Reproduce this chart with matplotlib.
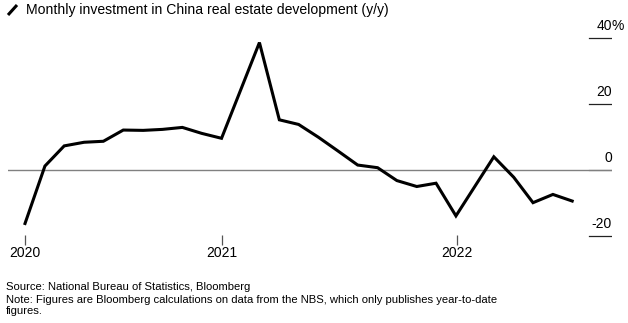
import pandas as pd
import matplotlib
matplotlib.use('Agg')
import matplotlib.pyplot as plt
import matplotlib.transforms as mtransforms
from matplotlib.lines import Line2D

plt.rcParams['font.family'] = ['Liberation Sans', 'DejaVu Sans']

# month-end dates; Jan-Feb is reported as one figure by the NBS
dates = pd.to_datetime([
    '2020-02-29', '2020-03-31', '2020-04-30', '2020-05-31', '2020-06-30',
    '2020-07-31', '2020-08-31', '2020-09-30', '2020-10-31', '2020-11-30',
    '2020-12-31',
    '2021-02-28', '2021-03-31', '2021-04-30', '2021-05-31', '2021-06-30',
    '2021-07-31', '2021-08-31', '2021-09-30', '2021-10-31', '2021-11-30',
    '2021-12-31',
    '2022-02-28', '2022-03-31', '2022-04-30', '2022-05-31', '2022-06-30',
])
invest_yoy = [
    -16.2, 1.2, 7.3, 8.4, 8.7, 12.1, 12.0, 12.3, 12.9, 11.1, 9.6,
    38.6, 15.2, 13.8, 9.9, 5.8, 1.5, 0.7, -3.2, -5.0, -4.0, -13.9,
    4.0, -2.2, -9.9, -7.4, -9.4,
]
year_ticks = [dates[0], pd.Timestamp('2021-01-01'), pd.Timestamp('2022-01-01')]
year_labels = ['2020', '2021', '2022']
y_ticks = [40, 20, 0, -20]

title = 'Monthly investment in China real estate development (y/y)'
source = 'Source: National Bureau of Statistics, Bloomberg'
note = ('Note: Figures are Bloomberg calculations on data from the NBS, which only publishes year-to-date\n'
        'figures.')

W, H = 628, 323
fig = plt.figure(figsize=(W / 100, H / 100), dpi=100)
# axes spans x 8..612 px, y 30..240 px
ax = fig.add_axes([8 / W, 1 - 240 / H, 604 / W, 210 / H])

ax.plot(dates, invest_yoy, color='black', lw=2.2, solid_joinstyle='miter', zorder=3)

ax.set_xlim(dates[0] - pd.Timedelta(days=26.5), dates[-1] + pd.Timedelta(days=62))
ax.set_ylim(-21.2, 42.4)

for s in ax.spines.values():
    s.set_visible(False)

# zero line across the plot, short tick segments on the right
ax.axhline(0, color='#808080', lw=1.0, zorder=1)
seg_x0 = (589 - 8) / 604
for v in y_ticks:
    ax.axhline(v, xmin=seg_x0, xmax=1.0, color='#808080' if v == 0 else '#222222',
               lw=0.9, zorder=2)

trans = mtransforms.blended_transform_factory(ax.transAxes, ax.transData)
for v in y_ticks:
    off = mtransforms.offset_copy(trans, fig=fig, y=5, units='dots')
    ax.text(1.0, v, str(v), transform=off, ha='right', va='bottom', fontsize=10)
    if v == y_ticks[0]:
        ax.text(1.0, v, '%', transform=off, ha='left', va='bottom', fontsize=10)

ax.set_yticks([])
ax.set_xticks(year_ticks)
ax.set_xticklabels(year_labels, fontsize=10)
ax.tick_params(axis='x', direction='inout', length=7, width=0.9, color='#555555', pad=1)

# title with the small slash marker
fig.add_artist(Line2D([8 / W, 17 / W], [1 - 15 / H, 1 - 5 / H], color='black',
                      lw=2.2, solid_capstyle='butt'))
fig.text(26 / W, 1 - 10 / H, title, fontsize=10.1, va='center', ha='left')

fig.text(6 / W, 1 - 287 / H, source, fontsize=8.1, va='center', ha='left')
fig.text(6 / W, 1 - 295 / H, note, fontsize=8.1, va='top', ha='left', linespacing=1.15)

fig.savefig('out.png', dpi=100)
